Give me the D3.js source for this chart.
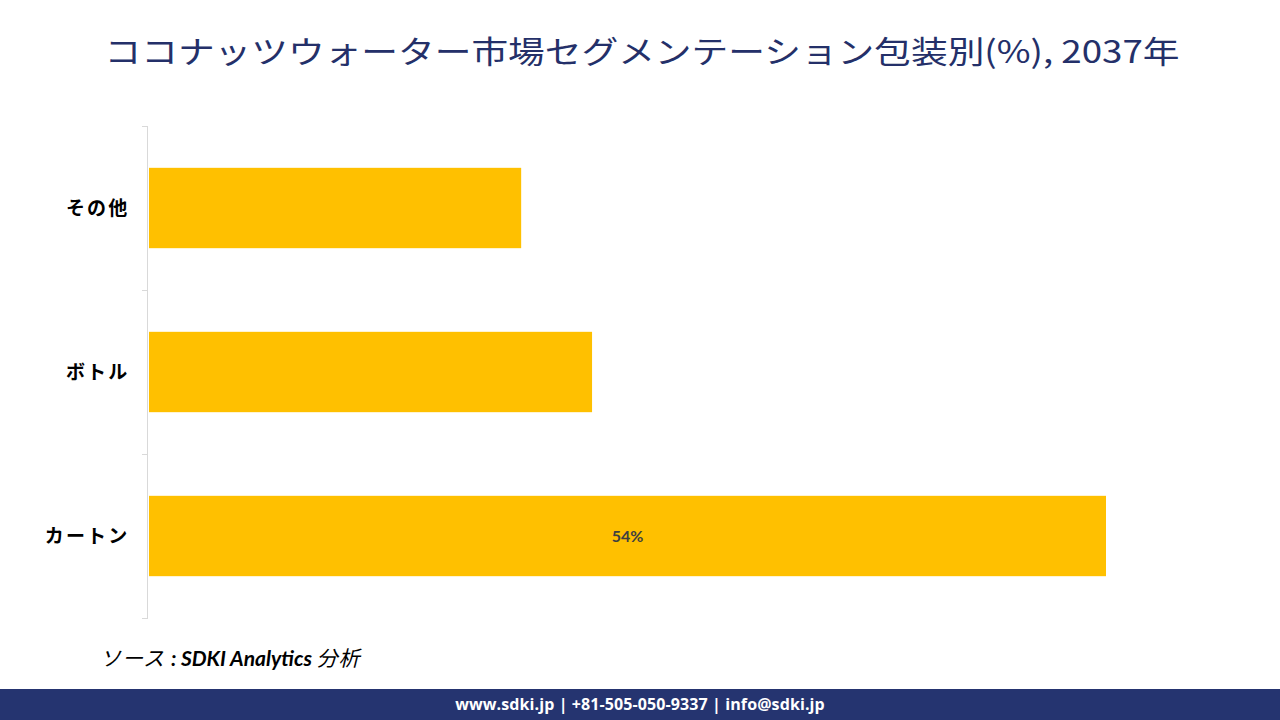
<!DOCTYPE html>
<html>
<head>
<meta charset="utf-8">
<script src="https://cdn.jsdelivr.net/npm/d3@7"></script>
<style>
  body { margin: 0; background: #fff; }
  svg { display: block; }
</style>
</head>
<body>
<svg id="chart" width="1280" height="720"></svg>
<script>
// Data
const categories = ["その他", "ボトル", "カートン"];
const shares = [21, 25, 54];
const shownLabels = ["", "", "54%"];

const svg = d3.select("#chart");
const margin = { top: 126, right: 174, bottom: 102, left: 148 };
const width = 1280 - margin.left - margin.right;
const height = 720 - margin.top - margin.bottom;

// Title
svg.append("text")
  .attr("x", 642)
  .attr("y", 63)
  .attr("text-anchor", "middle")
  .attr("font-family", "'Noto Sans CJK JP', sans-serif")
  .attr("font-size", 31)
  .attr("fill", "#243069")
  .attr("textLength", 1075)
  .attr("lengthAdjust", "spacingAndGlyphs")
  .text("ココナッツウォーター市場セグメンテーション包装別(%), 2037年");

const g = svg.append("g")
  .attr("transform", `translate(${margin.left},${margin.top})`);

const x = d3.scaleLinear().domain([0, 54]).range([1, 958]);
const y = d3.scaleBand().domain(categories).range([0, height]).paddingInner(0.51).paddingOuter(0.255);

// Bars
g.selectAll(".bar")
  .data(categories)
  .join("rect")
  .attr("class", "bar")
  .attr("x", 1)
  .attr("y", (d) => y(d))
  .attr("width", (d, i) => x(shares[i]) - 1)
  .attr("height", y.bandwidth())
  .attr("fill", "#FFC000");

// Value labels
g.selectAll(".val")
  .data(categories)
  .join("text")
  .attr("class", "val")
  .attr("x", (d, i) => (1 + x(shares[i])) / 2)
  .attr("y", (d) => y(d) + y.bandwidth() / 2 + 6)
  .attr("text-anchor", "middle")
  .attr("font-family", "Lato, sans-serif")
  .attr("font-weight", "bold")
  .attr("font-size", 16)
  .attr("fill", "#404040")
  .text((d, i) => shownLabels[i]);

// Axis line + ticks between categories
const step = height / categories.length;
g.append("line")
  .attr("x1", -0.5).attr("x2", -0.5)
  .attr("y1", 0).attr("y2", height)
  .attr("stroke", "#d9d9d9");
g.selectAll(".tick")
  .data(d3.range(categories.length + 1))
  .join("line")
  .attr("x1", -6).attr("x2", 0)
  .attr("y1", (d) => d * step + 0.5).attr("y2", (d) => d * step + 0.5)
  .attr("stroke", "#d9d9d9");

// Category labels
g.selectAll(".cat")
  .data(categories)
  .join("text")
  .attr("class", "cat")
  .attr("x", -18.5)
  .attr("y", (d) => y(d) + y.bandwidth() / 2 + 7)
  .attr("text-anchor", "end")
  .attr("font-family", "'Noto Sans CJK JP', sans-serif")
  .attr("font-weight", "bold")
  .attr("font-size", 19)
  .attr("letter-spacing", 2.2)
  .attr("fill", "#000")
  .text((d) => d);

// Source
svg.append("text")
  .attr("x", 100)
  .attr("y", 666)
  .attr("font-family", "Lato, 'Noto Sans CJK JP', sans-serif")
  .attr("font-style", "italic")
  .attr("font-size", 21)
  .attr("fill", "#000")
  .call((t) => {
    t.append("tspan").attr("letter-spacing", 1).text("ソース ");
    t.append("tspan").attr("font-weight", "bold").text(" : SDKI Analytics ");
    t.append("tspan").attr("letter-spacing", 1).text("分析");
  });

// Footer
svg.append("rect")
  .attr("x", 0).attr("y", 689)
  .attr("width", 1280).attr("height", 31)
  .attr("fill", "#253470");
svg.append("text")
  .attr("x", 640)
  .attr("y", 710)
  .attr("text-anchor", "middle")
  .attr("font-family", "'Open Sans', sans-serif")
  .attr("font-weight", "bold")
  .attr("font-size", 16)
  .attr("letter-spacing", 0.1)
  .attr("fill", "#fff")
  .text("www.sdki.jp | +81-505-050-9337 | info@sdki.jp");
</script>
</body>
</html>
